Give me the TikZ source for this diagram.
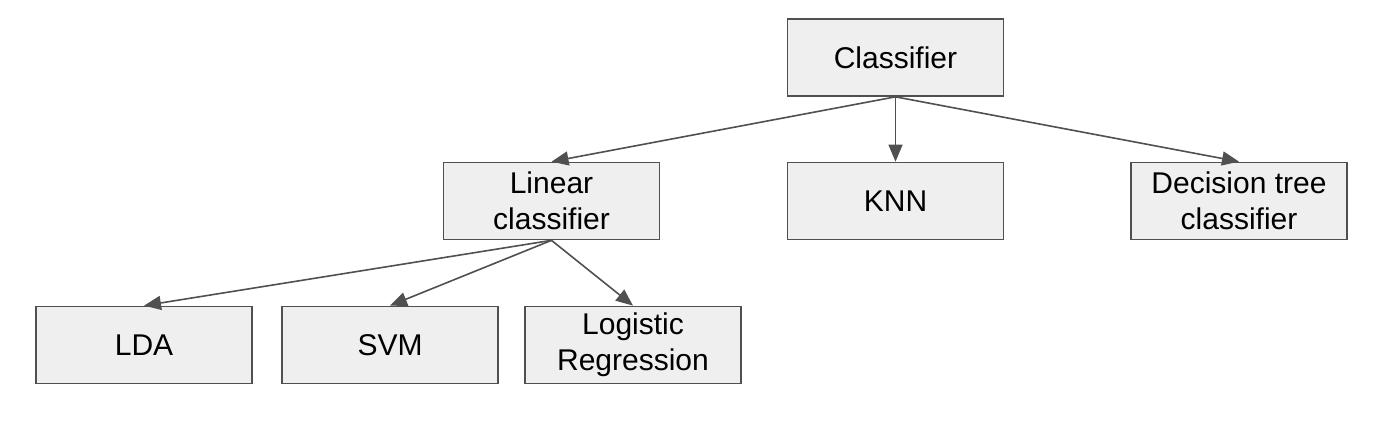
\documentclass[tikz,border=0pt]{standalone}
\usepackage{fontspec}
\setmainfont{Liberation Sans}
\usetikzlibrary{arrows.meta}
\definecolor{boxfill}{HTML}{EFEFEF}
\definecolor{edge}{HTML}{505050}
\tikzset{
  box/.style={draw=edge, line width=0.85pt, fill=boxfill, minimum width=108pt, minimum height=38.5pt,
    inner sep=0pt, align=center, font=\fontsize{15}{18}\selectfont, text=black},
  conn/.style={draw=edge, line width=0.8pt, -{Triangle[length=8.5pt,width=7pt]}}
}
\begin{document}
\begin{tikzpicture}[x=0.5pt,y=-0.5pt]
\useasboundingbox (0,0) rectangle (1400,431);
\node[box] (cls) at (895.5,57.5) {Classifier};
\node[box] (lin) at (551.5,201) {Linear\\classifier};
\node[box] (knn) at (895.5,201) {KNN};
\node[box] (dt) at (1239,201) {Decision tree\\classifier};
\node[box] (lda) at (144,345) {LDA};
\node[box] (svm) at (390,345) {SVM};
\node[box] (lr) at (633,345) {Logistic\\Regression};
\draw[conn] (cls.south) -- (lin.north);
\draw[conn] (cls.south) -- (knn.north);
\draw[conn] (cls.south) -- (dt.north);
\draw[conn] (lin.south) -- (lda.north);
\draw[conn] (lin.south) -- (svm.north);
\draw[conn] (lin.south) -- (lr.north);
\end{tikzpicture}
\end{document}
